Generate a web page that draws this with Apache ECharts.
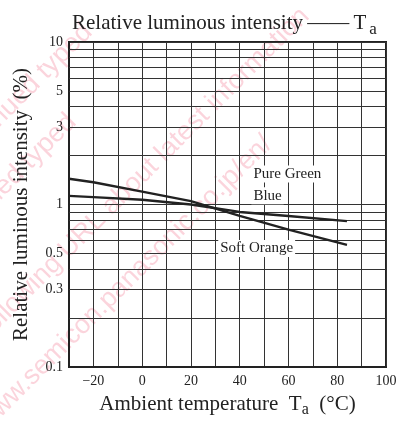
<!DOCTYPE html>
<html>
<head>
<meta charset="utf-8">
<script src="https://cdn.jsdelivr.net/npm/echarts@6/dist/echarts.min.js"></script>
<style>
  html, body { margin: 0; padding: 0; background: #fff; }
  #chart { width: 400px; height: 423px; }
</style>
</head>
<body>
<div id="chart"></div>
<script>
// ---- data ----
const temps = [-30, -20, 0, 20, 40, 60, 84];
const softOrange = [1.44, 1.37, 1.20, 1.05, 0.85, 0.70, 0.565];
const pureGreenBlue = [1.13, 1.11, 1.07, 1.00, 0.90, 0.85, 0.79];
const minorGridValues = [0.2, 0.3, 0.4, 0.5, 0.6, 0.7, 0.8, 0.9, 2, 3, 4, 5, 6, 7, 8, 9];
const extraYLabels = [0.3, 0.5, 3, 5];
const xLabelValues = [-20, 0, 20, 40, 60, 80, 100];
const seriesNames = ['Soft Orange', 'Pure Green / Blue'];

const SERIF = '"Liberation Serif", "DejaVu Serif", serif';
const INK = '#222';

const chart = echarts.init(document.getElementById('chart'), null, { renderer: 'canvas' });

const minorLines = minorGridValues.map(v => {
  const item = { yAxis: v };
  if (extraYLabels.indexOf(v) >= 0) {
    item.label = {
      show: true, position: 'start', distance: 6, formatter: String(v),
      color: INK, fontSize: 14, fontFamily: SERIF
    };
  } else {
    item.label = { show: false };
  }
  return item;
});

const wmStyle = (text) => ({
  text: text, fontSize: 27, fontFamily: '"Liberation Sans", Arial, sans-serif',
  fill: 'rgba(235,40,80,0.2)', align: 'right', verticalAlign: 'middle'
});
const ROT = Math.PI * 0.25;
const option = {
  backgroundColor: '#fff',
  animation: false,
  title: {
    text: '{m|Relative luminous intensity\u2009\u2014\u2014\u2009T}{s|a}',
    left: 67, top: 4,
    textStyle: {
      rich: {
        m: { fontSize: 21, fontWeight: 'normal', fontFamily: SERIF, color: INK, lineHeight: 24 },
        s: { fontSize: 17, fontWeight: 'normal', fontFamily: SERIF, color: INK, padding: [12, 0, 0, 3] }
      }
    }
  },
  graphic: [
    { type: 'text', z: -10, silent: true, x: 88, y: 28, rotation: ROT,
      style: wmStyle('Discontinued typed') },
    { type: 'text', z: -10, silent: true, x: 72, y: 118, rotation: ROT,
      style: wmStyle('Maintenance/Discontinued typed') },
    { type: 'text', z: -10, silent: true, x: 305, y: 12, rotation: ROT,
      style: wmStyle('Please visit following URL about latest information') },
    { type: 'text', z: -10, silent: true, x: 268, y: 140, rotation: ROT,
      style: wmStyle('http://www.semicon.panasonic.co.jp/en/') }
  ],
  grid: {
    left: 69, right: 14, top: 42, bottom: 49,
    show: true, borderColor: INK, borderWidth: 2, backgroundColor: 'transparent'
  },
  xAxis: {
    type: 'value', min: -30, max: 100, interval: 10,
    name: 'Ambient temperature  T{s|a}  (°C)',
    nameLocation: 'middle', nameGap: 23,
    nameTextStyle: {
      fontSize: 21, fontFamily: SERIF, color: INK,
      rich: { s: { fontSize: 16, fontFamily: SERIF, color: INK, padding: [12, 0, 0, 0] } }
    },
    axisLine: { show: true, onZero: false, lineStyle: { color: INK, width: 2 } },
    axisTick: { show: false },
    axisLabel: {
      margin: 7, fontSize: 14, fontFamily: SERIF, color: INK,
      formatter: v => xLabelValues.indexOf(v) >= 0 ? (v < 0 ? '\u2212' + (-v) : String(v)) : ''
    },
    splitLine: { show: true, lineStyle: { color: '#333', width: 1 } }
  },
  yAxis: {
    type: 'log', logBase: 10, min: 0.1, max: 10,
    name: 'Relative luminous intensity  (%)',
    nameLocation: 'middle', nameGap: 37,
    nameTextStyle: { fontSize: 21, fontFamily: SERIF, color: INK },
    axisLine: { show: true, onZero: false, lineStyle: { color: INK, width: 2 } },
    axisTick: { show: false },
    axisLabel: { margin: 6, fontSize: 14, fontFamily: SERIF, color: INK, formatter: v => String(v) },
    splitLine: { show: true, lineStyle: { color: '#333', width: 1 } }
  },
  series: [
    {
      name: seriesNames[0], type: 'line', symbol: 'none', z: 5,
      data: temps.map((t, i) => [t, softOrange[i]]),
      lineStyle: { color: INK, width: 2.4 },
      markLine: {
        silent: true, symbol: ['none', 'none'], z: 3,
        lineStyle: { color: '#333', width: 1, type: 'solid' },
        data: minorLines
      },
      markPoint: {
        silent: true, symbol: 'rect', symbolSize: 0,
        data: [
          { coord: [31.2, 0.536], label: { formatter: 'Soft Orange' } },
          { coord: [44.8, 1.54], label: { formatter: 'Pure Green' } },
          { coord: [44.8, 1.13], label: { formatter: 'Blue' } }
        ],
        label: {
          show: true, position: 'right', distance: 0,
          fontSize: 15, fontFamily: SERIF, color: INK,
          backgroundColor: '#fff', padding: [1, 2, 1, 2]
        }
      }
    },
    {
      name: seriesNames[1], type: 'line', symbol: 'none', z: 5,
      data: temps.map((t, i) => [t, pureGreenBlue[i]]),
      lineStyle: { color: INK, width: 2.4 }
    }
  ]
};
chart.setOption(option);
</script>
</body>
</html>
